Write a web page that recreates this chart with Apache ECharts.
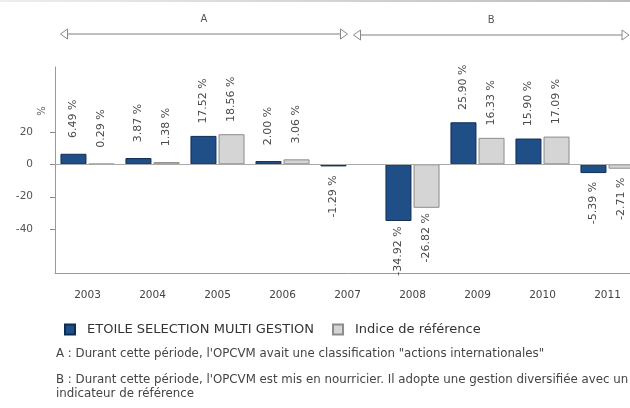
<!DOCTYPE html>
<html>
<head>
<meta charset="utf-8">
<script src="https://cdn.jsdelivr.net/npm/echarts@6/dist/echarts.min.js"></script>
<style>
  html, body { margin: 0; padding: 0; background: #fff; overflow: hidden; }
  /* the plot runs slightly past the right edge of the window */
  #chart { width: 640px; height: 408px; }
</style>
</head>
<body>
<div id="chart"></div>
<script>
// Annual performance, fund vs. benchmark (%)
const years = ['2003', '2004', '2005', '2006', '2007', '2008', '2009', '2010', '2011'];
const fundValues = [6.49, 3.87, 17.52, 2.00, -1.29, -34.92, 25.90, 15.90, -5.39];
const indexValues = [0.29, 1.38, 18.56, 3.06, null, -26.82, 16.33, 17.09, -2.71];
const yTicks = [-40, -20, 0, 20];
const fundName = 'ETOILE SELECTION MULTI GESTION';
const indexName = 'Indice de référence';
const noteA = 'A : Durant cette période, l\'OPCVM avait une classification "actions internationales"';
const noteB1 = 'B : Durant cette période, l\'OPCVM est mis en nourricier. Il adopte une gestion diversifiée avec un';
const noteB2 = 'indicateur de référence';

const FONT = '"DejaVu Sans", Verdana, sans-serif';
const fmt = v => v.toFixed(2) + ' %';

// rotated value labels, centred a little beyond the bar end
function withLabels(values) {
  return values.map(v => {
    if (v === null) return null;
    return {
      value: v,
      label: { position: v >= 0 ? 'top' : 'bottom', distance: v >= 0 ? 35 : 30 }
    };
  });
}

const labelStyle = {
  show: true,
  rotate: 90,
  align: 'center',
  verticalAlign: 'middle',
  fontSize: 11,
  fontFamily: FONT,
  color: '#4a4a4a',
  formatter: p => fmt(p.value)
};

const chart = echarts.init(document.getElementById('chart'), null, { renderer: 'canvas' });

const option = {
  animation: false,
  backgroundColor: '#fff',
  textStyle: { fontFamily: FONT },
  grid: { left: 55, right: 0, top: 67, bottom: 135, containLabel: false },
  legend: {
    left: 59,
    top: 318,
    itemWidth: 10,
    itemHeight: 10,
    itemGap: 18,
    icon: 'rect',
    textStyle: { fontSize: 13, color: '#333', fontFamily: FONT, padding: [0, 0, 0, 7] },
    data: [fundName, indexName]
  },
  xAxis: {
    type: 'category',
    data: years,
    boundaryGap: true,
    axisLine: { onZero: false, lineStyle: { color: '#999', width: 1 } },
    axisTick: { alignWithLabel: true, length: 5, lineStyle: { color: '#888' } },
    axisLabel: { fontSize: 10.5, color: '#444', margin: 17, fontFamily: FONT }
  },
  yAxis: {
    type: 'value',
    min: -67,
    max: 60,
    axisLine: { show: true, lineStyle: { color: '#999', width: 1 } },
    axisTick: { show: true, length: 5, customValues: yTicks, lineStyle: { color: '#888' } },
    axisLabel: { fontSize: 10.5, color: '#555', margin: 22, customValues: yTicks, fontFamily: FONT },
    splitLine: { show: false }
  },
  series: [
    {
      name: fundName,
      type: 'bar',
      data: withLabels(fundValues),
      barWidth: 26,
      barGap: '8%',
      itemStyle: { color: '#1f4f86', borderColor: '#0f2d52', borderWidth: 1 },
      label: labelStyle,
      markLine: {
        silent: true,
        symbol: 'none',
        label: { show: false },
        lineStyle: { color: '#aaa', width: 1, type: 'solid' },
        data: [{ yAxis: 0 }]
      }
    },
    {
      name: indexName,
      type: 'bar',
      data: withLabels(indexValues),
      barWidth: 26,
      itemStyle: { color: '#d5d5d5', borderColor: '#8c8c8c', borderWidth: 1 },
      label: labelStyle
    }
  ]
};

chart.setOption(option);

// period brackets above the plot, placed from the category axis
const xStart = chart.convertToPixel({ xAxisIndex: 0 }, '2003') - 32;
const x2007 = chart.convertToPixel({ xAxisIndex: 0 }, '2007');
const xEnd = 629;

function bracket(x0, x1, y, label) {
  const tri = { fill: '#fff', stroke: '#888', lineWidth: 1 };
  return [
    { type: 'line', shape: { x1: x0 + 7, y1: y, x2: x1 - 7, y2: y }, style: { stroke: '#aaa', lineWidth: 1.5 } },
    { type: 'polygon', shape: { points: [[x0, y], [x0 + 7, y - 5], [x0 + 7, y + 5]] }, style: tri },
    { type: 'polygon', shape: { points: [[x1, y], [x1 - 7, y - 5], [x1 - 7, y + 5]] }, style: tri },
    { type: 'text', x: (x0 + x1) / 2, y: y - 15, style: { text: label, font: '10px ' + FONT, fill: '#555', align: 'center', verticalAlign: 'middle' } }
  ];
}

const graphics = []
  .concat(bracket(xStart + 5, x2007, 34, 'A'))
  .concat(bracket(x2007 + 6, xEnd, 35, 'B'));

graphics.push(
  // thin shaded rule along the top edge
  { type: 'rect', shape: { x: 0, y: 0, width: 640, height: 2 },
    style: { fill: new echarts.graphic.LinearGradient(0, 0, 1, 0, [
      { offset: 0, color: '#eee' }, { offset: 1, color: '#bbb' }]) } },
  // unit name on the value axis
  { type: 'text', x: 42, y: 111, rotation: Math.PI / 2,
    style: { text: '%', font: '10px ' + FONT, fill: '#555', align: 'center', verticalAlign: 'middle' } },
  { type: 'text', x: 56, y: 354,
    style: { text: noteA, font: '11.8px ' + FONT, fill: '#444', verticalAlign: 'middle' } },
  { type: 'text', x: 56, y: 380,
    style: { text: noteB1, font: '11.8px ' + FONT, fill: '#444', verticalAlign: 'middle' } },
  { type: 'text', x: 56, y: 394,
    style: { text: noteB2, font: '11.8px ' + FONT, fill: '#444', verticalAlign: 'middle' } }
);

chart.setOption({ graphic: graphics });
</script>
</body>
</html>
